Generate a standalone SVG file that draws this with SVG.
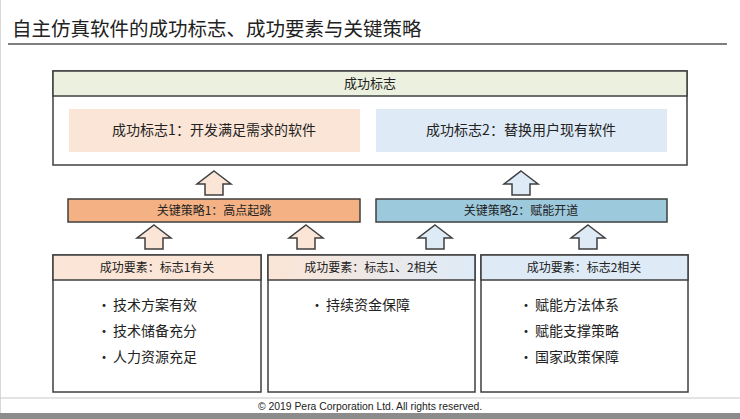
<svg xmlns="http://www.w3.org/2000/svg" width="740" height="419" viewBox="0 0 740 419">
<defs>
<style>
text{font-family:"Noto Sans CJK SC","Noto Sans",sans-serif;fill:#222}
.box{stroke:#3f3f3f;stroke-width:1.5}
.arr{stroke:#3f3f3f;stroke-width:1.5;stroke-linejoin:miter}
.pe{fill:#fbe5d6}
.bl{fill:#deebf7}
.t13{font-size:13px;text-anchor:middle}
.t12{font-size:12px;text-anchor:middle}
.t14{font-size:14px}
.c{text-anchor:middle}
</style>
<linearGradient id="g2" x1="0" y1="0" x2="1" y2="0">
<stop offset="0" stop-color="#fbe5d6"/>
<stop offset="1" stop-color="#deebf7"/>
</linearGradient>
<path id="up" d="M0,0 L17,13 L9,13 L9,24 L-9,24 L-9,13 L-17,13 Z"/>
</defs>
<rect width="740" height="419" fill="#ffffff"/>
<line x1="0.5" y1="0" x2="0.5" y2="419" stroke="#d8d8d8" stroke-width="1"/>
<g id="title">
<text x="12" y="36" style="font-size:19.5px">自主仿真软件的成功标志、成功要素与关键策略</text>
<line x1="8" y1="44" x2="727" y2="44" stroke="#7f7f7f" stroke-width="2"/>
</g>
<g id="success-marks">
<rect class="box" x="53" y="71" width="634" height="94" fill="#ffffff"/>
<rect class="box" x="53" y="71" width="634" height="25" fill="#ebf1de"/>
<text class="t13" x="370" y="88">成功标志</text>
</g>
<g id="mark1">
<rect class="pe" x="69" y="109" width="291" height="43"/>
<text class="c" x="214" y="135" style="font-size:14px">成功标志1：开发满足需求的软件</text>
</g>
<g id="mark2">
<rect class="bl" x="376" y="109" width="291" height="43"/>
<text class="c" x="521" y="135" style="font-size:14px">成功标志2：替换用户现有软件</text>
</g>
<g id="strategy1">
<rect class="box" x="68" y="199" width="292" height="23" fill="#f4b183"/>
<text class="t12" x="214" y="215">关键策略1：高点起跳</text>
</g>
<g id="strategy2">
<rect class="box" x="376" y="199" width="291" height="23" fill="#9cc9dc"/>
<text class="t12" x="521" y="215">关键策略2：赋能开道</text>
</g>
<g id="factor1">
<rect class="box" x="53" y="255" width="208" height="137" fill="#ffffff"/>
<rect class="box" x="53" y="255" width="208" height="25" fill="#fbe5d6"/>
<text class="t12" x="157" y="272">成功要素：标志1有关</text>
<text class="t14" x="97" y="310">•</text><text class="t14" x="113" y="310">技术方案有效</text>
<text class="t14" x="97" y="336">•</text><text class="t14" x="113" y="336">技术储备充分</text>
<text class="t14" x="97" y="362">•</text><text class="t14" x="113" y="362">人力资源充足</text>
</g>
<g id="factor2">
<rect class="box" x="268" y="255" width="207" height="137" fill="#ffffff"/>
<rect class="box" x="268" y="255" width="207" height="25" fill="url(#g2)"/>
<text class="t12" x="371" y="272">成功要素：标志1、2相关</text>
<text class="t14" x="310" y="310">•</text><text class="t14" x="326" y="310">持续资金保障</text>
</g>
<g id="factor3">
<rect class="box" x="481" y="255" width="207" height="137" fill="#ffffff"/>
<rect class="box" x="481" y="255" width="207" height="25" fill="#deebf7"/>
<text class="t12" x="584" y="272">成功要素：标志2相关</text>
<text class="t14" x="519" y="310">•</text><text class="t14" x="535" y="310">赋能方法体系</text>
<text class="t14" x="519" y="336">•</text><text class="t14" x="535" y="336">赋能支撑策略</text>
<text class="t14" x="519" y="362">•</text><text class="t14" x="535" y="362">国家政策保障</text>
</g>
<g id="connectors">
<use href="#up" class="arr pe" x="214" y="171"/>
<use href="#up" class="arr bl" x="521" y="171"/>
<use href="#up" class="arr pe" x="154" y="225"/>
<use href="#up" class="arr pe" x="306" y="225"/>
<use href="#up" class="arr bl" x="435" y="225"/>
<use href="#up" class="arr bl" x="588" y="225"/>
</g>
<g id="footer">
<line x1="0" y1="398" x2="740" y2="398" stroke="#c8c8c8" stroke-width="1"/>
<text x="370" y="410" style="font-family:'Liberation Sans',sans-serif;font-size:10.4px;text-anchor:middle">© 2019  Pera Corporation Ltd. All rights reserved.</text>
<rect x="0" y="413" width="740" height="6" fill="#8c8c8c"/>
</g>
</svg>
